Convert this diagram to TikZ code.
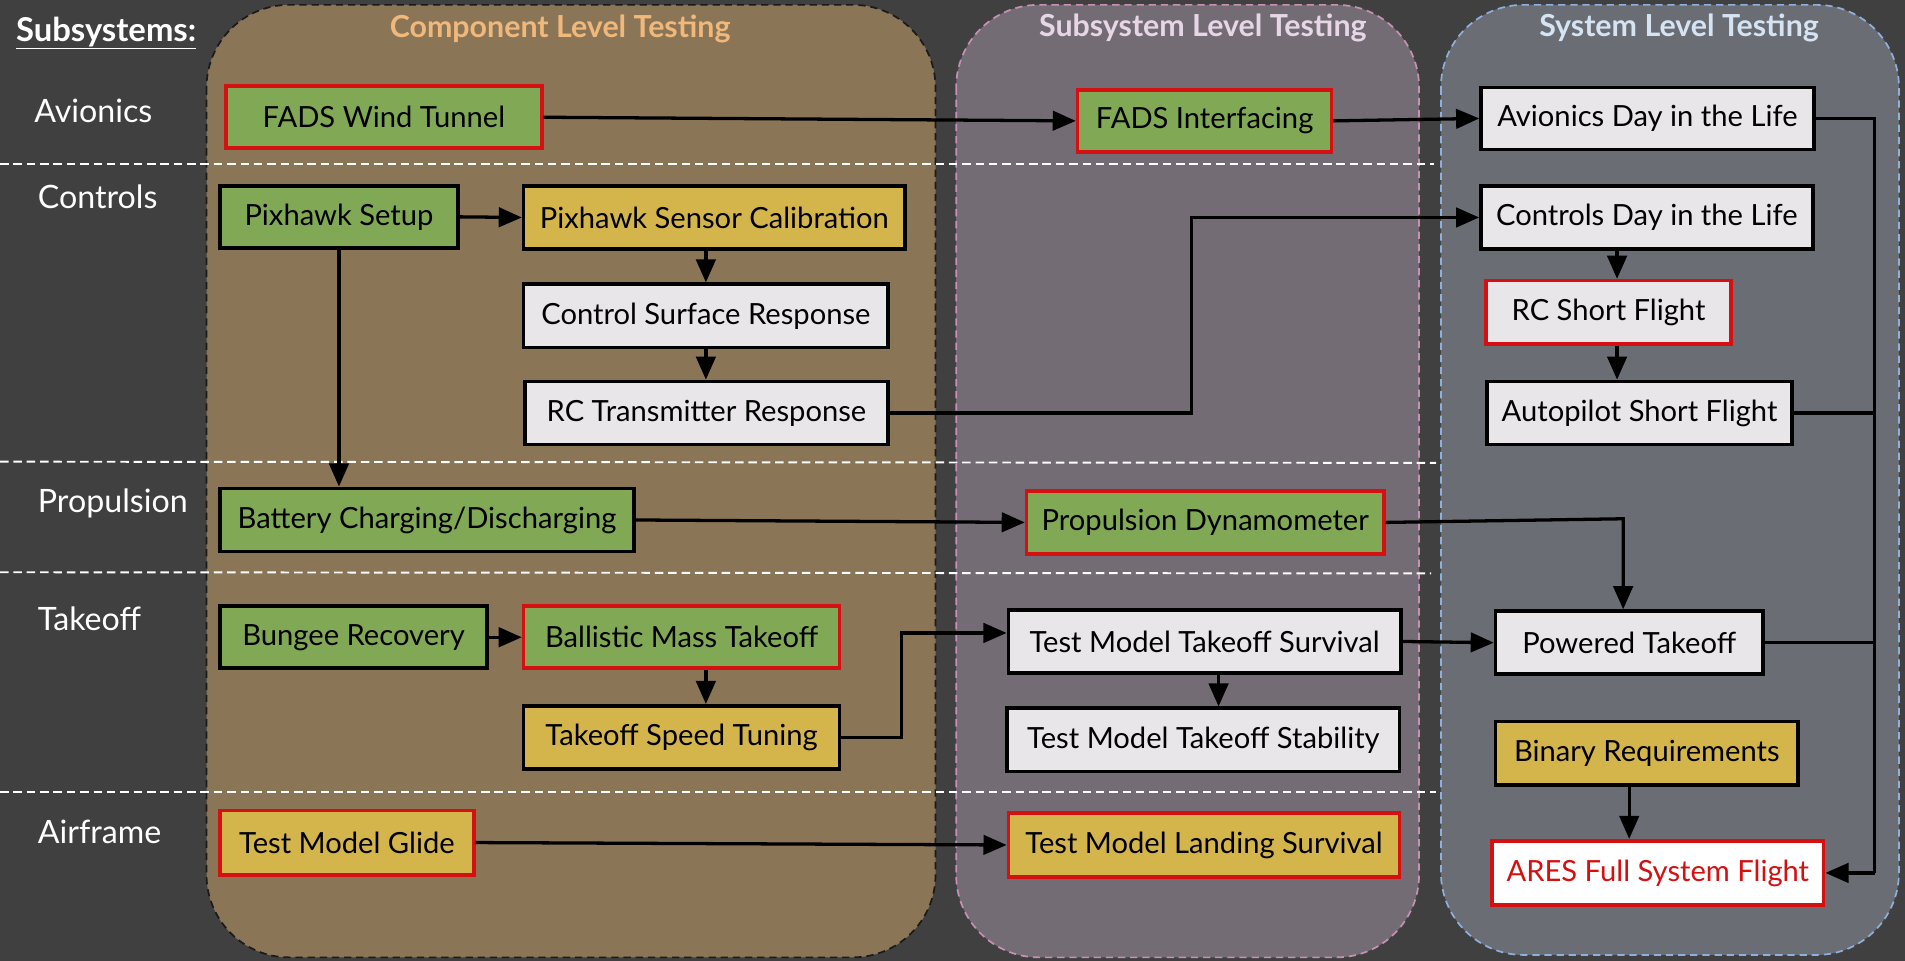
\documentclass[tikz,border=0pt]{standalone}
\usepackage{fontspec}
\setmainfont{Lato}
\usetikzlibrary{arrows.meta}
\definecolor{bg}{HTML}{404040}
\definecolor{compfill}{HTML}{8B7557}
\definecolor{subfill}{HTML}{746C74}
\definecolor{sysfill}{HTML}{6A6D73}
\definecolor{compline}{HTML}{1A1A1A}
\definecolor{subline}{HTML}{C890B4}
\definecolor{sysline}{HTML}{8FB0DE}
\definecolor{comptitle}{HTML}{F0B87A}
\definecolor{subtitle}{HTML}{E6D6E6}
\definecolor{systitle}{HTML}{D5E3F2}
\definecolor{boxgreen}{HTML}{80A855}
\definecolor{boxyellow}{HTML}{D4B54B}
\definecolor{boxgray}{HTML}{E8E6E8}
\definecolor{boxred}{HTML}{D41010}
\tikzset{
  region/.style={rounded corners=68pt, dashed, dash pattern=on 6pt off 4pt, line width=1.4pt},
  sep/.style={draw=white, dash pattern=on 7pt off 4pt, line width=1.6pt},
  rowlabel/.style={anchor=west, text=white, inner sep=0pt, font=\fontsize{26.5}{30}\selectfont},
  coltitle/.style={font=\bfseries\fontsize{25}{29}\selectfont},
  box/.style={draw=black, line width=3pt, inner sep=0pt, text=black, font=\fontsize{24}{28}\selectfont},
  redbox/.style={box, draw=boxred},
  arr/.style={draw=black, line width=2.7pt, -{Triangle[length=19pt,width=16pt]}},
  con/.style={draw=black, line width=2.7pt}
}
\begin{document}
\begin{tikzpicture}[x=1pt,y=-1pt]
\useasboundingbox (0,0) rectangle (1568,791);
\fill[bg] (0,0) rectangle (1568,791);
% regions
\filldraw[region, fill=compfill, draw=compline] (170,4) rectangle (770,788);
\filldraw[region, fill=subfill, draw=subline] (787,4) rectangle (1168,788);
\filldraw[region, fill=sysfill, draw=sysline] (1186,4) rectangle (1563,786);
\node[coltitle, text=comptitle] (tcomp) at (461,24) {Component Level Testing};
\node[coltitle, text=subtitle] (tsub) at (990,23) {Subsystem Level Testing};
\node[coltitle, text=systitle] (tsys) at (1382,23) {System Level Testing};
% separators
\draw[sep] (0,135) -- (1180,135);
\draw[sep] (0,380) -- (1182,381);
\draw[sep] (0,471) -- (1178,472);
\draw[sep] (0,652) -- (1182,652);
% row labels
\node[anchor=west, inner sep=0pt, text=white, font=\bfseries\fontsize{27}{31}\selectfont] (subs) at (13,27) {\underline{Subsystems:}};
\node[rowlabel] (lav) at (28,91) {Avionics};
\node[rowlabel] (lco) at (31,162) {Controls};
\node[rowlabel] (lpr) at (31,414) {Propulsion};
\node[rowlabel] (lta) at (31,509) {Takeoff};
\node[rowlabel] (lai) at (31,685) {Airframe};
% nodes
\node[redbox, fill=boxgreen, minimum width=260pt, minimum height=51pt] (fwt) at (316,96.5) {FADS Wind Tunnel};
\node[redbox, fill=boxgreen, minimum width=209pt, minimum height=51pt] (fadsi) at (991.5,99.5) {FADS Interfacing};
\node[box, fill=boxgray, minimum width=274pt, minimum height=51pt] (adl) at (1356,97.5) {Avionics Day in the Life};
\node[box, fill=boxgreen, minimum width=196pt, minimum height=51pt] (pix) at (279,178.5) {Pixhawk Setup};
\node[box, fill=boxyellow, minimum width=314pt, minimum height=52pt] (psc) at (588,179) {Pixhawk Sensor Calibration};
\node[box, fill=boxgray, minimum width=300pt, minimum height=52pt] (csr) at (581,260) {Control Surface Response};
\node[box, fill=boxgray, minimum width=299pt, minimum height=52pt] (rct) at (581.5,340) {RC Transmitter Response};
\node[box, fill=boxgray, minimum width=273pt, minimum height=52pt] (cdl) at (1355.5,179) {Controls Day in the Life};
\node[redbox, fill=boxgray, minimum width=202pt, minimum height=52pt] (rcs) at (1324,257) {RC Short Flight};
\node[box, fill=boxgray, minimum width=251pt, minimum height=52pt] (asf) at (1349.5,340) {Autopilot Short Flight};
\node[box, fill=boxgreen, minimum width=341pt, minimum height=52pt] (bat) at (351.5,428) {Battery Charging/Discharging};
\node[redbox, fill=boxgreen, minimum width=294pt, minimum height=52pt] (pdy) at (992,430) {Propulsion Dynamometer};
\node[box, fill=boxgreen, minimum width=220pt, minimum height=51pt] (bun) at (291,524.5) {Bungee Recovery};
\node[redbox, fill=boxgreen, minimum width=260pt, minimum height=51pt] (bmt) at (561,524.5) {Ballistic Mass Takeoff};
\node[box, fill=boxyellow, minimum width=260pt, minimum height=52pt] (tst) at (561,607) {Takeoff Speed Tuning};
\node[box, fill=boxgray, minimum width=323pt, minimum height=52pt] (tmts) at (991.5,528) {Test Model Takeoff Survival};
\node[box, fill=boxgray, minimum width=323pt, minimum height=52pt] (tmst) at (990.5,609) {Test Model Takeoff Stability};
\node[box, fill=boxgray, minimum width=220pt, minimum height=52pt] (pwt) at (1341,529) {Powered Takeoff};
\node[box, fill=boxyellow, minimum width=249pt, minimum height=52pt] (bin) at (1355.5,620) {Binary Requirements};
\node[redbox, fill=boxyellow, minimum width=209pt, minimum height=53pt] (tmg) at (285.5,693.5) {Test Model Glide};
\node[redbox, fill=boxyellow, minimum width=322pt, minimum height=53pt] (tmls) at (991,695.5) {Test Model Landing Survival};
\node[redbox, fill=white, text=boxred, minimum width=273pt, minimum height=53pt] (ares) at (1364.5,718.5) {ARES Full System Flight};
% helper coordinates
\coordinate (xa) at (581,0);
\coordinate (xb) at (1331,0);
\coordinate (xc) at (1003,0);
\coordinate (xd) at (1341,0);
\coordinate (bus) at (1543,0);
\coordinate (j1) at (981,340);
\coordinate (j2) at (981,179);
\coordinate (j3) at (742,607);
\coordinate (j4) at (742,521);
\coordinate (j5) at (1336,427);
% connectors
\draw[arr] (fwt.east) -- (fadsi.west);
\draw[arr] (fadsi.east) -- (adl.west);
\draw[arr] (pix.east) -- (psc.west);
\draw[arr] (pix.south) -- (pix.south |- bat.north);
\draw[arr] (psc.south -| xa) -- (csr.north -| xa);
\draw[arr] (csr.south -| xa) -- (rct.north -| xa);
\draw[arr] (rct.east) -- (j1) -- (j2) -- (cdl.west);
\draw[arr] (cdl.south -| xb) -- (rcs.north -| xb);
\draw[arr] (rcs.south -| xb) -- (asf.north -| xb);
\draw[arr] (bat.east) -- (pdy.west);
\draw[arr] (pdy.east) -- (j5) -- (j5 |- pwt.north);
\draw[arr] (bun.east) -- (bmt.west);
\draw[arr] (bmt.south -| xa) -- (tst.north -| xa);
\draw[arr] (tst.east) -- (j3) -- (j4) -- (j4 -| tmts.west);
\draw[arr] (tmts.east) -- (pwt.west);
\draw[arr] (tmts.south -| xc) -- (tmst.north -| xc);
\draw[arr] (tmg.east) -- (tmls.west);
\draw[arr] (bin.south -| xd) -- (ares.north -| xd);
\draw[con] (adl.east) -- (adl.east -| bus) -- (ares.east -| bus);
\draw[con] (asf.east) -- (asf.east -| bus);
\draw[con] (pwt.east) -- (pwt.east -| bus);
\draw[arr] (ares.east -| bus) -- (ares.east);
\end{tikzpicture}
\end{document}
